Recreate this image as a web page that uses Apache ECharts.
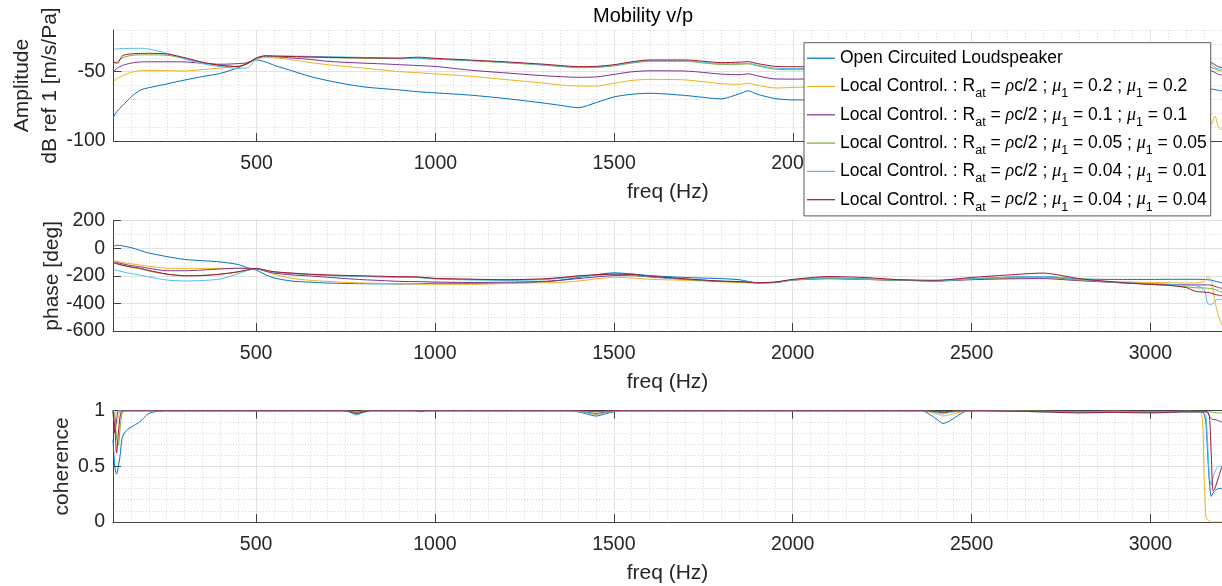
<!DOCTYPE html>
<html><head><meta charset="utf-8">
<script src="https://cdn.jsdelivr.net/npm/echarts@6/dist/echarts.min.js"></script>
<style>html,body{margin:0;padding:0;background:#fff}#c{width:1222px;height:586px}</style>
</head><body><div id="c"></div>
<script>
// ---------- data ----------
const seriesNames = [
  'Open Circuited Loudspeaker',
  'Local Control. : Rat = ρc/2 ; μ1 = 0.2 ; μ1 = 0.2',
  'Local Control. : Rat = ρc/2 ; μ1 = 0.1 ; μ1 = 0.1',
  'Local Control. : Rat = ρc/2 ; μ1 = 0.05 ; μ1 = 0.05',
  'Local Control. : Rat = ρc/2 ; μ1 = 0.04 ; μ1 = 0.01',
  'Local Control. : Rat = ρc/2 ; μ1 = 0.04 ; μ1 = 0.04'
];
const legendLabels = [
  'Open Circuited Loudspeaker',
  'Local Control. : R{sub|at} = {it|ρ}c/2 ; {it|μ}{sub|1} = 0.2 ; {it|μ}{sub|1} = 0.2',
  'Local Control. : R{sub|at} = {it|ρ}c/2 ; {it|μ}{sub|1} = 0.1 ; {it|μ}{sub|1} = 0.1',
  'Local Control. : R{sub|at} = {it|ρ}c/2 ; {it|μ}{sub|1} = 0.05 ; {it|μ}{sub|1} = 0.05',
  'Local Control. : R{sub|at} = {it|ρ}c/2 ; {it|μ}{sub|1} = 0.04 ; {it|μ}{sub|1} = 0.01',
  'Local Control. : R{sub|at} = {it|ρ}c/2 ; {it|μ}{sub|1} = 0.04 ; {it|μ}{sub|1} = 0.04'
];
const colors = ['#0072BD', '#EDB120', '#7E2F8E', '#77AC30', '#4DBEEE', '#A2142F'];

const freq = [100,110,125,150,175,200,250,300,350,400,450,475,500,525,550,600,650,700,750,800,850,900,950,1000,1100,1200,1300,1350,1400,1450,1500,1550,1600,1700,1800,1850,1875,1900,1950,2000,2100,2200,2300,2400,2500,2600,2700,2800,2900,3000,3050,3100,3125,3150,3160,3170,3180,3190,3200];

const ampOpen = [-82.5,-78.5,-74.5,-68,-63.3,-61.5,
  -58.8,-56,-53.5,-51.2,-47,-43.5,-41.6,-43,-45.5,
  -49.5,-53.5,-56.5,-59,-61,-62.2,-63.2,-64.5,-65.3,
  -67,-69.5,-72.6,-74.3,-76,-72.3,-68.2,-66.3,-65.6,
  -67.2,-69.6,-66,-63.8,-66.3,-69.4,-70.4,
  -70,-69,-68.5,-69.5,-68,-66.5,-65.5,-65,-64.5,-64,
  -63.8,-63.5,-63.3,-63,-63,-62.5,-63,-63.5,-64];
const ampMu02 = [-56.8,-55,-53,-50.5,-49.3,-49.2,
  -49.3,-49.5,-48.5,-47.4,-45.8,-44.4,-41,-39.8,-40,
  -41.5,-43.5,-45,-46.3,-47.5,-48.8,-50,-50.8,-51.6,
  -53.4,-55.8,-58.2,-59.6,-60.4,-60.4,-58.4,-56.3,-55.6,
  -56,-58.7,-59.2,-58.4,-59.8,-61.8,-61.4,
  -61,-60.5,-60,-61,-60,-59,-58.5,-58.5,-59,-60,
  -60.5,-62,-64,-72,-80,-88,-82,-90,-92];
const ampMu01 = [-50,-47.5,-45.5,-43.8,-43,-42.9,
  -42.9,-43,-44,-44.7,-44.2,-43.5,-40.5,-38.8,-39.2,
  -40.2,-41.2,-42.6,-43.3,-43.9,-44.4,-45,-45.6,-46.3,
  -49,-51,-52.9,-53.6,-54.1,-53.8,-52,-50.1,-49.4,
  -49.6,-51.8,-52.2,-51.6,-53,-55.3,-55.4,
  -55,-54.5,-54,-55,-54,-53,-52,-51.5,-51,-50.5,
  -50,-49.5,-49,-48.8,-48.8,-49.5,-50.5,-52,-52.5];
const ampMu005 = [-44,-43,-40,-38.3,-37.9,-37.9,
  -38.2,-40.6,-43.6,-45.7,-46.4,-44.2,-40.2,-38.8,-39,
  -39.3,-39.6,-39.9,-40.1,-40.3,-40.5,-40.7,-40.5,-41,
  -42.2,-43.6,-45.3,-46.3,-47.2,-47,-45.8,-43.8,-42.5,
  -42.6,-44.8,-44.7,-44.4,-45.8,-48.2,-48.6,
  -48.5,-48,-47.5,-48.5,-47.5,-47,-46.5,-46.5,-46.5,-46.5,
  -46.5,-46.5,-46.5,-46.5,-46.5,-47,-48,-49,-49.5];
const ampMu004a = [-33.9,-33.6,-33.4,-33.2,-33.2,-33.8,
  -36.8,-41,-44.3,-46.5,-47.6,-47.3,-40.5,-38.7,-38.7,
  -38.8,-39,-39.2,-39.5,-39.8,-40,-40.3,-40.6,-41,
  -42,-43.4,-45,-46,-46.8,-46.6,-45.4,-43.4,-42.2,
  -42.3,-44.3,-44.2,-43.9,-45.3,-47.5,-47.8,
  -47.5,-47,-46.5,-47.5,-46.5,-46,-45.5,-45,-45,-44.5,
  -44.5,-44.3,-44.2,-44,-44,-45,-47,-48,-48];
const ampMu004b = [-42.9,-44,-38.5,-37.2,-36.9,-36.8,
  -37.3,-40,-43.3,-45.5,-46.3,-44,-40,-38.6,-38.8,
  -39.1,-39.4,-39.7,-39.9,-40.1,-40.2,-40.3,-39.6,-40.4,
  -41.7,-43,-44.6,-45.6,-46.4,-46.2,-45,-42.9,-41.6,
  -41.6,-43.5,-43.2,-42.8,-44.2,-46.2,-46.5,
  -46.3,-46,-45.5,-46.3,-45.5,-45,-44.5,-44,-43.8,-43.5,
  -43.3,-43.1,-43,-42.9,-42.9,-43.5,-45,-46.5,-47];

const phOpen = [11,22,18,5,-15,-34,
  -60,-81,-90,-99,-118,-141,-158,-190,-215,
  -238,-246,-252,-255,-257,-258,-259,-258,-254,
  -254,-253,-245,-232,-212,-192,-178,-186,-198,
  -212,-220,-228,-240,-250,-250,-228,
  -215,-222,-230,-236,-222,-210,-205,-222,-226,-226,
  -225,-225,-225,-226,-228,-232,-238,-245,-250];
const phMu02 = [-85,-92,-102,-113,-121,-130,
  -145,-146,-146,-146,-146,-146,-148,-166,-188,
  -218,-232,-240,-248,-252,-255,-258,-259,-261,
  -262,-256,-250,-248,-238,-222,-211,-215,-225,
  -232,-244,-248,-250,-253,-248,-232,
  -222,-226,-232,-238,-225,-218,-212,-228,-242,-248,
  -250,-252,-252,-240,-205,-230,-380,-490,-560];
const phMu01 = [-97,-103,-112,-125,-134,-145,
  -163,-163,-158,-150,-145,-145,-148,-165,-180,
  -193,-201,-210,-220,-228,-234,-240,-242,-245,
  -248,-246,-240,-232,-220,-208,-198,-198,-208,
  -225,-240,-243,-246,-250,-247,-230,
  -220,-226,-232,-237,-228,-222,-220,-235,-248,-258,
  -262,-265,-266,-266,-266,-268,-275,-285,-290];
const phMu005 = [-100,-110,-122,-138,-148,-165,
  -188,-198,-196,-188,-172,-158,-147,-160,-172,
  -182,-190,-196,-200,-203,-206,-209,-210,-220,
  -226,-230,-224,-215,-203,-195,-190,-192,-204,
  -224,-240,-244,-247,-250,-247,-230,
  -218,-225,-232,-236,-222,-212,-208,-230,-248,-262,
  -270,-280,-286,-288,-290,-292,-300,-310,-320];
const phMu004a = [-153,-160,-170,-183,-194,-208,
  -230,-237,-234,-223,-185,-162,-146,-160,-172,
  -182,-190,-198,-202,-205,-208,-210,-212,-222,
  -230,-233,-228,-218,-206,-195,-190,-194,-205,
  -224,-238,-240,-244,-248,-246,-230,
  -216,-224,-230,-236,-222,-210,-205,-224,-246,-258,
  -262,-268,-270,-300,-400,-410,-380,-370,-370];
const phMu004b = [-105,-112,-122,-135,-145,-160,
  -187,-200,-198,-188,-170,-157,-146,-158,-170,
  -180,-188,-193,-197,-200,-203,-206,-208,-218,
  -224,-228,-222,-213,-200,-192,-187,-190,-202,
  -222,-238,-242,-246,-250,-245,-226,
  -205,-212,-228,-232,-212,-194,-180,-220,-245,-262,
  -268,-285,-312,-318,-320,-325,-335,-340,-345];

const cohFreq = [100,105,110,115,120,125,130,140,150,160,175,200,225,250,500,740,760,780,800,820,900,940,960,980,1000,1380,1420,1450,1480,1520,2000,2360,2400,2420,2440,2480,2520,2700,2800,2900,3000,3100,3140,3150,3155,3160,3165,3170,3175,3180,3190,3200];
const cohOpen = [0.74,0.5,0.43,0.5,0.6,0.75,0.79,0.83,0.85,0.87,0.9,0.975,0.995,1,
  1,1,0.99,0.97,0.985,1,1,1,0.99,1,1,
  1,0.975,0.952,0.975,1,
  1,1,0.93,0.886,0.91,0.99,1,
  0.99,0.985,0.99,0.985,0.99,
  0.99,0.97,0.89,0.6,0.35,0.23,0.26,0.28,0.3,0.3];
const cohMu02 = [1,0.95,0.88,0.95,1,1,1,1,1,1,1,1,1,1,
  1,1,0.995,0.985,0.995,1,1,1,1,1,1,
  1,0.985,0.965,0.985,1,
  1,1,0.975,0.952,0.965,0.995,1,
  0.995,0.99,0.995,0.99,0.995,
  0.99,0.4,0.05,0.02,0.01,0,0,0,0,0];
const cohMu01 = [1,0.8,0.92,1,1,1,1,1,1,1,1,1,1,1,
  1,1,0.998,0.99,0.998,1,1,1,1,1,1,
  1,0.99,0.975,0.99,1,
  1,1,0.99,0.98,0.99,1,1,
  0.995,0.99,0.995,0.99,0.995,
  0.995,0.995,0.99,0.99,0.95,0.93,0.92,0.92,0.91,0.9];
const cohMu005 = [1,0.97,0.75,0.69,0.85,0.97,1,1,1,1,1,1,1,1,
  1,1,0.998,0.99,0.998,1,1,1,1,1,1,
  1,0.995,0.99,0.995,1,
  1,1,0.995,0.99,0.995,1,1,
  0.995,0.99,0.995,0.99,0.995,
  0.995,0.995,0.995,0.99,0.99,0.99,0.985,0.985,0.98,0.98];
const cohMu004a = [1,1,0.98,1,1,1,1,1,1,1,1,1,1,1,
  1,1,0.99,0.96,0.985,1,1,1,1,1,1,
  1,0.985,0.97,0.985,1,
  1,1,0.985,0.97,0.985,1,1,
  0.99,0.985,0.99,0.985,0.99,
  0.99,0.98,0.95,0.7,0.4,0.33,0.4,0.45,0.5,0.5];
const cohMu004b = [1,0.85,0.62,0.8,0.95,1,1,1,1,1,1,1,1,1,
  1,1,0.995,0.975,0.99,1,1,1,1,1,1,
  1,1,0.995,1,1,
  1,1,0.995,0.99,0.995,1,1,
  0.99,0.98,0.985,0.98,0.99,
  0.99,0.99,0.99,0.98,0.95,0.6,0.28,0.3,0.4,0.5];

const xTicks = [500,1000,1500,2000,2500,3000];
const ampTicks = [-100,-50];
const phaseTicks = [-600,-400,-200,0,200];
const cohTicks = [0,0.5,1];

const ampSets = [ampOpen, ampMu02, ampMu01, ampMu005, ampMu004a, ampMu004b];
const phSets = [phOpen, phMu02, phMu01, phMu005, phMu004a, phMu004b];
const cohSets = [cohOpen, cohMu02, cohMu01, cohMu005, cohMu004a, cohMu004b];

// ---------- styling ----------
const FONT = '"Liberation Sans", Arial, Helvetica, sans-serif';
const AX = '#404040', TXT = '#262626';
const MAJ = '#e2e2e2', MIN = '#d6d6d6';
const X0 = 100, X1 = 3200;
const plain = v => String(v);

const grids = [
  {left: 113, width: 1113, top: 30, height: 111},
  {left: 113, width: 1113, top: 220.7, height: 110.3},
  {left: 113, width: 1113, top: 410.7, height: 111.3}
];

const xAxes = [], yAxes = [];
function addX(g) {
  xAxes.push({gridIndex: g, type: 'value', min: X0, max: X1, interval: 50, position: 'bottom',
    axisLine: {show: true, onZero: false, lineStyle: {color: AX, width: 1}}, axisTick: {show: false}, axisLabel: {show: false},
    splitLine: {show: true, lineStyle: {color: MIN, width: 1, type: [1, 2]}}});
  xAxes.push({gridIndex: g, type: 'value', min: X0, max: X1, position: 'bottom',
    axisLine: {show: false, onZero: false},
    axisTick: {show: true, inside: true, length: 8, customValues: xTicks, lineStyle: {color: AX}},
    axisLabel: {show: true, customValues: xTicks, formatter: plain, fontSize: 19.5, fontFamily: FONT, color: TXT, margin: 13},
    splitLine: {show: true, lineStyle: {color: MAJ, width: 1}},
    name: 'freq (Hz)', nameLocation: 'middle', nameGap: 41, nameMoveOverlap: false,
    nameTextStyle: {fontSize: 21, fontFamily: FONT, color: TXT}});
}
function addY(g, min, max, step, ticks, name, gap, lh) {
  yAxes.push({gridIndex: g, type: 'value', min: min, max: max, interval: step, position: 'left',
    axisLine: {show: true, onZero: false, lineStyle: {color: AX, width: 1}}, axisTick: {show: false}, axisLabel: {show: false},
    splitLine: {show: true, lineStyle: {color: MIN, width: 1, type: [1, 2]}}});
  yAxes.push({gridIndex: g, type: 'value', min: min, max: max, position: 'left',
    axisLine: {show: false, onZero: false},
    axisTick: {show: true, inside: true, length: 8, customValues: ticks, lineStyle: {color: AX}},
    axisLabel: {show: true, customValues: ticks, formatter: plain, fontSize: 19.5, fontFamily: FONT, color: TXT, margin: 8},
    splitLine: {show: true, lineStyle: {color: MAJ, width: 1}},
    name: name, nameLocation: 'middle', nameGap: gap, nameMoveOverlap: false,
    nameTextStyle: {fontSize: 21, fontFamily: FONT, color: TXT, lineHeight: lh}});
}
addX(0); addX(1); addX(2);
// top ticks of the coherence box
xAxes.push({gridIndex: 2, type: 'value', min: X0, max: X1, position: 'top',
  axisLine: {show: true, onZero: false, lineStyle: {color: AX}},
  axisTick: {show: true, inside: true, length: 8, customValues: xTicks, lineStyle: {color: AX}},
  axisLabel: {show: false}, splitLine: {show: false}});
addY(0, -100, -20, 10, ampTicks, 'Amplitude\ndB ref 1 [m/s/Pa]', 49, 28.3);
addY(1, -600, 200, 100, phaseTicks, 'phase [deg]', 50, 21);
addY(2, 0, 1, 0.1, cohTicks, 'coherence', 40, 21);

const series = [];
function addSeries(g, xs, sets) {
  sets.forEach((vals, i) => {
    series.push({
      name: seriesNames[i], type: 'line', xAxisIndex: g * 2, yAxisIndex: g * 2,
      data: xs.map((x, k) => [x, vals[k]]),
      symbol: 'none', showSymbol: false, smooth: 0.25,
      lineStyle: {color: colors[i], width: 1}, itemStyle: {color: colors[i]},
      emphasis: {disabled: true}, animation: false
    });
  });
}
addSeries(0, freq, ampSets);
addSeries(1, freq, phSets);
addSeries(2, cohFreq, cohSets);

const chart = echarts.init(document.getElementById('c'), null, {renderer: 'canvas'});
chart.setOption({
  animation: false,
  backgroundColor: '#ffffff',
  title: {text: 'Mobility v/p', left: 643, top: 6.5, padding: 0, textAlign: 'center',
    textStyle: {fontSize: 20, fontWeight: 'normal', fontFamily: FONT, color: '#000'}},
  legend: {
    orient: 'vertical', left: 804, top: 42.7, padding: [1.5, 4, 2.2, 3], itemGap: 0.3,
    itemWidth: 28, itemHeight: 1.2, icon: 'rect', backgroundColor: '#ffffff', borderColor: '#5a5a5a', borderWidth: 1,
    data: seriesNames, selectedMode: false,
    formatter: function (name) { return legendLabels[seriesNames.indexOf(name)]; },
    textStyle: {fontSize: 17.5, fontFamily: FONT, color: '#000', lineHeight: 28,
      rich: {
        sub: {fontSize: 12.5, fontFamily: FONT, color: '#000', verticalAlign: 'bottom', lineHeight: 12},
        it: {fontSize: 18, fontFamily: '"Liberation Serif", "Times New Roman", serif', fontStyle: 'italic', color: '#000'}
      }}
  },
  grid: grids,
  xAxis: xAxes,
  yAxis: yAxes,
  series: series
});
</script>
</body></html>
